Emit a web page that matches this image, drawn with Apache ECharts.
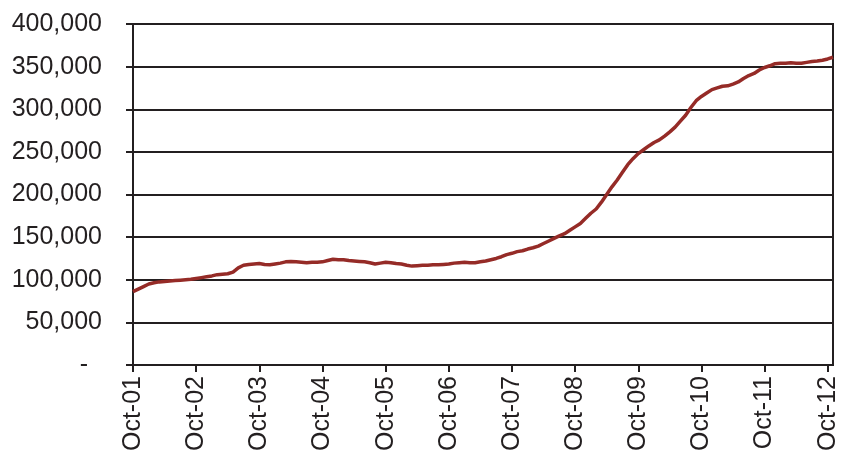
<!DOCTYPE html>
<html>
<head>
<meta charset="utf-8">
<script src="https://cdn.jsdelivr.net/npm/echarts@6/dist/echarts.min.js"></script>
<style>
  html, body { margin: 0; padding: 0; background: #fff; }
  #chart { width: 851px; height: 459px; }
</style>
</head>
<body>
<div id="chart"></div>
<script>
// monthly, Oct-01 .. Nov-12
const monthNames = ['Oct', 'Nov', 'Dec', 'Jan', 'Feb', 'Mar', 'Apr', 'May', 'Jun', 'Jul', 'Aug', 'Sep'];
const startYear = 1;
const monthCount = 134;

// values (thousands)
const valuesK = [
  86, 89, 92, 95, 96.5, 97.5, 98, 98.5, 99, 99.5, 100, 100.5,
  101.5, 102.5, 103.5, 104.5, 106, 106.5, 107, 109, 114, 117, 118, 118.5,
  119, 118, 117.5, 118.5, 119.5, 121, 121.5, 121, 120.5, 120, 120.5, 120.5,
  121, 122.5, 124, 123.5, 123.5, 122.5, 122, 121.5, 121, 120, 118.5, 119.5,
  120.5, 120, 119, 118.5, 117, 116, 116.5, 117, 117, 117.5, 117.5, 118,
  118.5, 119.5, 120, 120.5, 120, 120, 121, 122, 123.5, 125, 127, 129.5,
  131, 133, 134, 136, 137.5, 139.5, 142.5, 145.5, 148.5, 151.5, 154, 158,
  162, 166, 172, 178, 183, 191, 200, 209, 217, 226, 235, 242,
  248, 252.5, 257, 261, 264, 268.5, 273.5, 279, 286, 293, 302, 310,
  315, 319, 323, 325, 327, 327.5, 329.5, 332, 336, 339.5, 342, 346,
  349, 351, 353.5, 354, 354, 354.5, 354, 354, 355, 356, 356.5, 357.5,
  359, 361
];

const yMin = 0;
const yMax = 400000;
const yStep = 50000;

const categories = [];
for (let i = 0; i < monthCount; i++) {
  const yr = startYear + Math.floor((i + 9) / 12);
  categories.push(monthNames[i % 12] + '-' + String(yr).padStart(2, '0'));
}
const values = valuesK.map(v => v * 1000);

const chart = echarts.init(document.getElementById('chart'));
const axisColor = '#231F20';
const option = {
  animation: false,
  grid: {
    left: 133, top: 24, right: 18, bottom: 94,
    show: true, borderColor: axisColor, borderWidth: 2
  },
  xAxis: {
    type: 'category',
    data: categories,
    boundaryGap: false,
    axisLine: { lineStyle: { color: axisColor, width: 2 } },
    axisTick: {
      interval: 11,
      length: 7,
      lineStyle: { color: axisColor, width: 2 }
    },
    axisLabel: {
      interval: 11,
      rotate: 90,
      margin: 11,
      color: axisColor,
      fontFamily: 'Liberation Sans, Arial, sans-serif',
      fontSize: 25
    },
    splitLine: { show: false }
  },
  yAxis: {
    type: 'value',
    min: yMin,
    max: yMax,
    interval: yStep,
    axisLine: { show: true, lineStyle: { color: axisColor, width: 2 } },
    axisTick: { show: true, length: 7, lineStyle: { color: axisColor, width: 2 } },
    axisLabel: {
      margin: 31,
      color: axisColor,
      fontFamily: 'Liberation Sans, Arial, sans-serif',
      fontSize: 25,
      formatter: function (v) {
        if (v === 0) return '-  ';
        return v.toLocaleString('en-US');
      }
    },
    splitLine: { show: true, lineStyle: { color: axisColor, width: 2 } }
  },
  series: [
    {
      type: 'line',
      data: values,
      symbol: 'none',
      smooth: false,
      lineStyle: { color: '#952B27', width: 3.5 }
    }
  ]
};
chart.setOption(option);
</script>
</body>
</html>
